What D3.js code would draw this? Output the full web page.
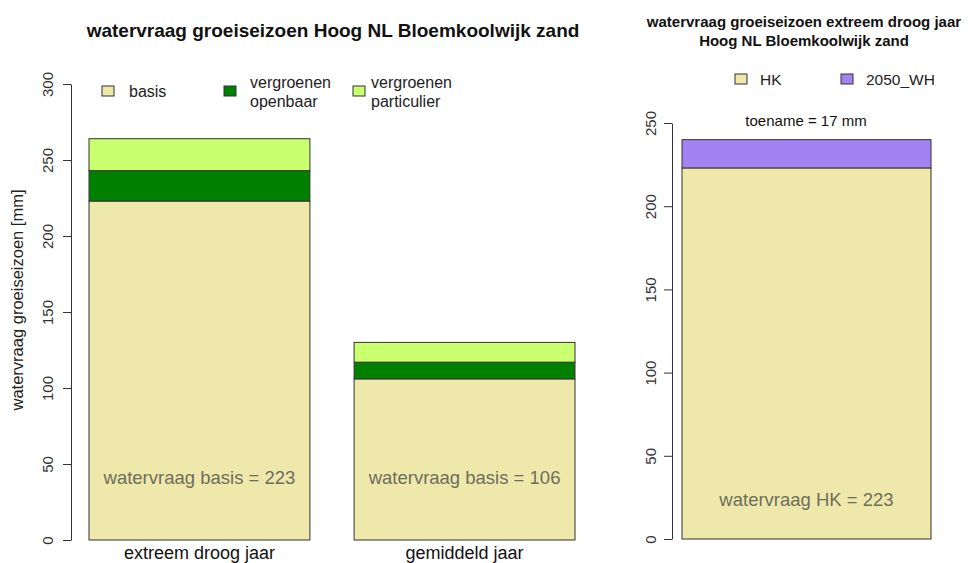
<!DOCTYPE html>
<html>
<head>
<meta charset="utf-8">
<script src="https://cdn.jsdelivr.net/npm/d3@7"></script>
<style>
  body { margin: 0; background: #fff; }
  svg { font-family: "Liberation Sans", Arial, sans-serif; display: block; }
</style>
</head>
<body>
<script>
// left panel data
const jaren = ["extreem droog jaar", "gemiddeld jaar"];
const basis = [223, 106];
const openbaar = [20, 11];
const particulier = [21, 13];
const leftTicks = [0, 50, 100, 150, 200, 250, 300];

// right panel data
const scenario = ["extreem droog jaar"];
const hk = [223];
const wh2050 = [17];
const rightTicks = [0, 50, 100, 150, 200, 250];

const kleur = {
    basis: "#eee8aa",
    openbaar: "#008000",
    particulier: "#caff70",
    hk: "#eee8aa",
    wh: "#a383f2"
};

const svg = d3.select("body").append("svg")
    .attr("width", 968)
    .attr("height", 563);

// ---------- left panel ----------
const yL = d3.scaleLinear().domain([0, 300]).range([540, 84]);
// R barplot: space = 0.2 of bar width
const xL = d3.scaleBand().domain(jaren).range([89, 575]).paddingInner(0.2 / 1.2).paddingOuter(0);

const stackL = d3.stack().keys(["basis", "openbaar", "particulier"])(
    jaren.map((j, i) => ({ jaar: j, basis: basis[i], openbaar: openbaar[i], particulier: particulier[i] }))
);

const left = svg.append("g");

left.selectAll("g.laag")
    .data(stackL)
    .enter().append("g")
    .attr("class", "laag")
    .attr("fill", d => kleur[d.key])
    .selectAll("rect")
    .data(d => d)
    .enter().append("rect")
    .attr("x", d => xL(d.data.jaar))
    .attr("width", xL.bandwidth())
    .attr("y", d => yL(d[1]))
    .attr("height", d => yL(d[0]) - yL(d[1]))
    .attr("stroke", "#333")
    .attr("stroke-width", 1);

const axL = left.append("g")
    .attr("transform", "translate(71,0)")
    .call(d3.axisLeft(yL).tickValues(leftTicks).tickSize(8).tickSizeOuter(0));
axL.select(".domain").attr("stroke", "#333");
axL.selectAll(".tick line").attr("stroke", "#333");
axL.selectAll(".tick text")
    .attr("transform", "rotate(-90)")
    .attr("x", 0).attr("y", -18).attr("dy", 0)
    .attr("text-anchor", "middle")
    .style("font-size", "15px")
    .attr("fill", "#333");

left.append("text")
    .attr("transform", "translate(23,300) rotate(-90)")
    .attr("text-anchor", "middle")
    .style("font-size", "16.5px")
    .attr("fill", "#222")
    .text("watervraag groeiseizoen [mm]");

left.selectAll(".xlab")
    .data(jaren)
    .enter().append("text")
    .attr("class", "xlab")
    .attr("x", d => xL(d) + xL.bandwidth() / 2)
    .attr("y", 559)
    .attr("text-anchor", "middle")
    .style("font-size", "18px")
    .attr("fill", "#111")
    .text(d => d);

left.selectAll(".blab")
    .data(jaren)
    .enter().append("text")
    .attr("class", "blab")
    .attr("x", d => xL(d) + xL.bandwidth() / 2)
    .attr("y", yL(37))
    .attr("text-anchor", "middle")
    .style("font-size", "18.5px")
    .attr("fill", "#6e6e5e")
    .text((d, i) => "watervraag basis = " + basis[i]);

left.append("text")
    .attr("x", 333)
    .attr("y", 37)
    .attr("text-anchor", "middle")
    .style("font-size", "19px")
    .style("font-weight", "bold")
    .attr("fill", "#111")
    .text("watervraag groeiseizoen Hoog NL Bloemkoolwijk zand");

const legL = [
    { key: "basis", x: 102, tx: 27, lines: ["basis"] },
    { key: "openbaar", x: 224, tx: 26, lines: ["vergroenen", "openbaar"] },
    { key: "particulier", x: 353, tx: 18, lines: ["vergroenen", "particulier"] }
];
const lg = left.selectAll(".legL")
    .data(legL)
    .enter().append("g")
    .attr("class", "legL")
    .attr("transform", d => `translate(${d.x},91)`);
lg.append("rect")
    .attr("x", 0).attr("y", -5)
    .attr("width", 12).attr("height", 10)
    .attr("fill", d => kleur[d.key])
    .attr("stroke", "#333");
lg.each(function (d) {
    const g = d3.select(this);
    const n = d.lines.length;
    d.lines.forEach((t, i) => {
        g.append("text")
            .attr("x", d.tx)
            .attr("y", (i - (n - 1) / 2) * 19 + 6)
            .style("font-size", "16px")
            .attr("fill", "#222")
            .text(t);
    });
});

// ---------- right panel ----------
const yR = d3.scaleLinear().domain([0, 250]).range([539, 123]);
const xR = d3.scaleBand().domain(scenario).range([682, 931]).padding(0);

const stackR = d3.stack().keys(["hk", "wh"])(
    scenario.map((s, i) => ({ s: s, hk: hk[i], wh: wh2050[i] }))
);

const right = svg.append("g");

right.selectAll("g.laag")
    .data(stackR)
    .enter().append("g")
    .attr("class", "laag")
    .attr("fill", d => kleur[d.key])
    .selectAll("rect")
    .data(d => d)
    .enter().append("rect")
    .attr("x", d => xR(d.data.s))
    .attr("width", xR.bandwidth())
    .attr("y", d => yR(d[1]))
    .attr("height", d => yR(d[0]) - yR(d[1]))
    .attr("stroke", "#333")
    .attr("stroke-width", 1);

const axR = right.append("g")
    .attr("transform", "translate(672,0)")
    .call(d3.axisLeft(yR).tickValues(rightTicks).tickSize(8).tickSizeOuter(0));
axR.select(".domain").attr("stroke", "#333");
axR.selectAll(".tick line").attr("stroke", "#333");
axR.selectAll(".tick text")
    .attr("transform", "rotate(-90)")
    .attr("x", 0).attr("y", -16).attr("dy", 0)
    .attr("text-anchor", "middle")
    .style("font-size", "15px")
    .attr("fill", "#333");

// y label of the right panel, cut off at the image edge
svg.append("clipPath").attr("id", "knip")
    .append("rect").attr("x", 626).attr("y", 0).attr("width", 20).attr("height", 563);
right.append("text")
    .attr("clip-path", "url(#knip)")
    .attr("transform", "translate(625,320) rotate(-90)")
    .attr("text-anchor", "middle")
    .style("font-size", "16.5px")
    .attr("fill", "#222")
    .text("watervraag groeiseizoen [mm]");

right.append("text")
    .attr("x", xR(scenario[0]) + xR.bandwidth() / 2)
    .attr("y", yR(20))
    .attr("text-anchor", "middle")
    .style("font-size", "18.5px")
    .attr("fill", "#6e6e5e")
    .text("watervraag HK = " + hk[0]);

right.append("text")
    .attr("x", 806)
    .attr("y", 126)
    .attr("text-anchor", "middle")
    .style("font-size", "15px")
    .attr("fill", "#111")
    .text("toename = " + wh2050[0] + " mm");

right.selectAll(".titel")
    .data(["watervraag groeiseizoen extreem droog jaar", "Hoog NL Bloemkoolwijk zand"])
    .enter().append("text")
    .attr("class", "titel")
    .attr("x", 804)
    .attr("y", (d, i) => 27 + i * 19)
    .attr("text-anchor", "middle")
    .style("font-size", "15px")
    .style("font-weight", "bold")
    .attr("fill", "#111")
    .text(d => d);

const legR = [
    { key: "hk", x: 735, label: "HK" },
    { key: "wh", x: 841, label: "2050_WH" }
];
const lr = right.selectAll(".legR")
    .data(legR)
    .enter().append("g")
    .attr("class", "legR")
    .attr("transform", d => `translate(${d.x},79)`);
lr.append("rect")
    .attr("x", 0).attr("y", -5)
    .attr("width", 12).attr("height", 10)
    .attr("fill", d => kleur[d.key])
    .attr("stroke", "#333");
lr.append("text")
    .attr("x", 25)
    .attr("y", 6)
    .style("font-size", "15.5px")
    .attr("fill", "#222")
    .text(d => d.label);
</script>
</body>
</html>
